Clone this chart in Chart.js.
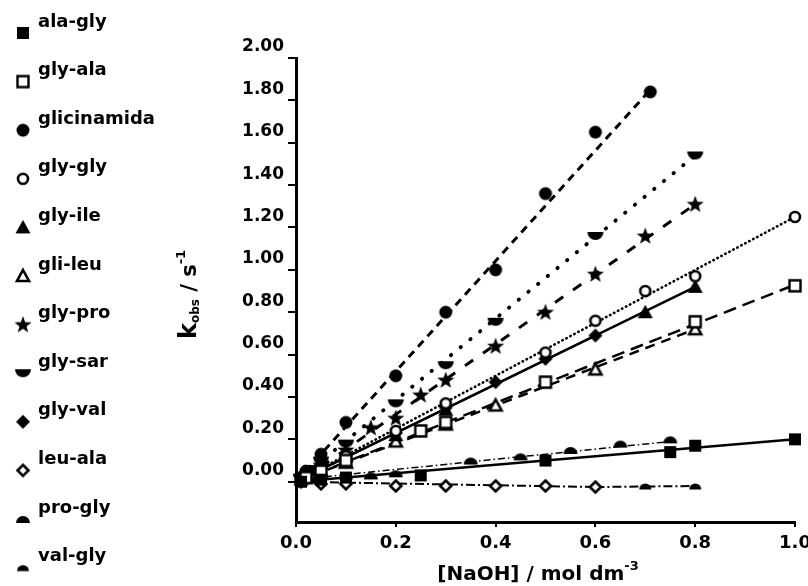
<!DOCTYPE html>
<html>
<head>
<meta charset="utf-8">
<script src="https://cdn.jsdelivr.net/npm/chart.js@4.4.1/dist/chart.umd.min.js"></script>
<style>
  html, body { margin: 0; padding: 0; background: #fff; }
  #wrap { width: 808px; height: 586px; position: relative; }
</style>
</head>
<body>
<div id="wrap"><canvas id="c" width="808" height="586"></canvas></div>
<script>
// Observed rate constant k_obs versus [NaOH] for glycinamide and a set of dipeptides.

const xTicks = [0, 0.2, 0.4, 0.6, 0.8, 1.0];
const yTicks = [0, 0.2, 0.4, 0.6, 0.8, 1.0, 1.2, 1.4, 1.6, 1.8, 2.0];

// measured points: [NaOH] / mol dm-3, k_obs / s-1
const alaGly      = [[0.01,0.00],[0.05,0.01],[0.10,0.02],[0.25,0.03],[0.50,0.10],[0.75,0.14],[0.80,0.17],[1.00,0.20]];
const glyAla      = [[0.02,0.02],[0.05,0.05],[0.10,0.10],[0.25,0.24],[0.30,0.28],[0.50,0.47],[0.80,0.755],[1.00,0.925]];
const glicinamida = [[0.01,0.02],[0.02,0.05],[0.05,0.13],[0.10,0.28],[0.20,0.50],[0.30,0.80],[0.40,1.00],[0.50,1.36],[0.60,1.65],[0.71,1.84]];
const glyGly      = [[0.01,0.01],[0.05,0.06],[0.10,0.12],[0.20,0.24],[0.30,0.37],[0.50,0.61],[0.60,0.76],[0.70,0.90],[0.80,0.97],[1.00,1.25]];
const glyIle      = [[0.01,0.01],[0.05,0.05],[0.10,0.12],[0.20,0.22],[0.30,0.34],[0.70,0.80],[0.80,0.92]];
const gliLeu      = [[0.02,0.02],[0.05,0.05],[0.10,0.09],[0.20,0.19],[0.30,0.27],[0.40,0.36],[0.60,0.53],[0.80,0.72]];
const glyPro      = [[0.01,0.02],[0.05,0.08],[0.10,0.15],[0.15,0.255],[0.20,0.30],[0.25,0.41],[0.30,0.48],[0.40,0.64],[0.50,0.80],[0.60,0.98],[0.70,1.16],[0.80,1.31]];
const glySar      = [[0.01,0.02],[0.03,0.06],[0.05,0.10],[0.10,0.18],[0.20,0.37],[0.30,0.55],[0.40,0.755],[0.60,1.16],[0.80,1.54]];
const glyVal      = [[0.01,0.01],[0.05,0.06],[0.10,0.11],[0.20,0.23],[0.30,0.35],[0.40,0.47],[0.50,0.58],[0.60,0.69]];
const leuAla      = [[0.01,0.00],[0.05,-0.01],[0.10,-0.01],[0.20,-0.02],[0.30,-0.02],[0.40,-0.02],[0.50,-0.02],[0.60,-0.025]];
const proGly      = [[0.01,0.01],[0.05,0.03],[0.10,0.03],[0.15,0.03],[0.20,0.04],[0.35,0.10],[0.45,0.12],[0.55,0.15],[0.65,0.18],[0.75,0.20]];
const valGly      = [[0.01,0.00],[0.03,0.01],[0.05,0.00],[0.70,-0.02],[0.80,-0.02]];

// straight-line fits: start and end of each drawn line
const alaGlyFit      = [[0, 0], [1.00, 0.20]];
const glyAlaFit      = [[0, 0], [1.00, 0.93]];
const glicinamidaFit = [[0, 0], [0.71, 1.85]];
const glyGlyFit      = [[0, 0], [1.00, 1.25]];
const glyIleFit      = [[0, 0], [0.80, 0.92]];
const gliLeuFit      = [[0, 0], [0.80, 0.72]];
const glyProFit      = [[0.05, 0.07], [0.80, 1.31]];
const glySarFit      = [[0, 0], [0.80, 1.54]];
const glyValFit      = [[0, 0], [0.60, 0.69]];
const leuAlaFit      = [[0, 0], [0.60, -0.025]];
const proGlyFit      = [[0, 0.01], [0.75, 0.19]];
const valGlyFit      = [[0.60, -0.025], [0.80, -0.02]];

const FAMILY = '"DejaVu Sans", "Liberation Sans", sans-serif';

// marker glyphs, drawn once onto small canvases
function makeMarker(kind) {
  const c = document.createElement('canvas');
  c.width = 20; c.height = 20;
  const g = c.getContext('2d');
  g.fillStyle = '#000'; g.strokeStyle = '#000'; g.lineJoin = 'miter';
  g.beginPath();
  switch (kind) {
    case 'fsq': g.rect(4, 4, 12, 12); g.fill(); break;
    case 'osq': g.rect(4.5, 4.5, 11, 11); g.fillStyle = '#fff'; g.fill(); g.lineWidth = 2.4; g.stroke(); break;
    case 'fci': g.arc(10, 10, 6.5, 0, Math.PI * 2); g.fill(); break;
    case 'oci': g.arc(10, 10, 5, 0, Math.PI * 2); g.fillStyle = '#fff'; g.fill(); g.lineWidth = 2.6; g.stroke(); break;
    case 'ftri': g.moveTo(10, 2.5); g.lineTo(17.5, 16); g.lineTo(2.5, 16); g.closePath(); g.fill(); break;
    case 'otri': g.moveTo(10, 4); g.lineTo(16, 15); g.lineTo(4, 15); g.closePath(); g.fillStyle = '#fff'; g.fill(); g.lineWidth = 2.6; g.stroke(); break;
    case 'star': {
      for (let i = 0; i < 10; i++) {
        const r = i % 2 === 0 ? 9 : 3.7;
        const a = -Math.PI / 2 + i * Math.PI / 5;
        const px = 10 + r * Math.cos(a), py = 10.5 + r * Math.sin(a);
        if (i === 0) g.moveTo(px, py); else g.lineTo(px, py);
      }
      g.closePath(); g.fill(); break;
    }
    case 'bowl': g.moveTo(2, 6); g.lineTo(18, 6); g.arc(10, 6, 8, 0, Math.PI); g.closePath(); g.fill(); break;
    case 'fdia': g.moveTo(10, 3); g.lineTo(17, 10); g.lineTo(10, 17); g.lineTo(3, 10); g.closePath(); g.fill(); break;
    case 'odia': g.moveTo(10, 4.5); g.lineTo(15.5, 10); g.lineTo(10, 15.5); g.lineTo(4.5, 10); g.closePath(); g.fillStyle = '#fff'; g.fill(); g.lineWidth = 2.6; g.stroke(); break;
    case 'dome': g.moveTo(3, 14); g.arc(10, 14, 7, Math.PI, Math.PI * 2); g.closePath(); g.fill(); break;
    case 'sdome': g.moveTo(4, 13.5); g.arc(10, 13.5, 6, Math.PI, Math.PI * 2); g.closePath(); g.fill(); break;
  }
  return c;
}

const series = [
  { name: 'ala-gly',     pts: alaGly,      fit: alaGlyFit,      mark: 'fsq',   dash: [],             lw: 2.5 },
  { name: 'gly-ala',     pts: glyAla,      fit: glyAlaFit,      mark: 'osq',   dash: [13, 7],        lw: 2.5 },
  { name: 'glicinamida', pts: glicinamida, fit: glicinamidaFit, mark: 'fci',   dash: [8, 6],         lw: 3 },
  { name: 'gly-gly',     pts: glyGly,      fit: glyGlyFit,      mark: 'oci',   dash: [0.5, 4],       lw: 2.6, cap: 'round' },
  { name: 'gly-ile',     pts: glyIle,      fit: glyIleFit,      mark: 'ftri',  dash: [],             lw: 2.5 },
  { name: 'gli-leu',     pts: gliLeu,      fit: gliLeuFit,      mark: 'otri',  dash: [10, 7],        lw: 2.5 },
  { name: 'gly-pro',     pts: glyPro,      fit: glyProFit,      mark: 'star',  dash: [10, 12],       lw: 3 },
  { name: 'gly-sar',     pts: glySar,      fit: glySarFit,      mark: 'bowl',  dash: [0.5, 12],      lw: 3.8, cap: 'round' },
  { name: 'gly-val',     pts: glyVal,      fit: glyValFit,      mark: 'fdia',  dash: [],             lw: 2 },
  { name: 'leu-ala',     pts: leuAla,      fit: leuAlaFit,      mark: 'odia',  dash: [9, 3, 2, 3],   lw: 2 },
  { name: 'pro-gly',     pts: proGly,      fit: proGlyFit,      mark: 'dome',  dash: [7, 3, 1.5, 3], lw: 1.5 },
  { name: 'val-gly',     pts: valGly,      fit: valGlyFit,      mark: 'sdome', dash: [9, 3, 2, 3],   lw: 2 }
];
series.forEach(s => { s.img = makeMarker(s.mark); });

const toXY = arr => arr.map(([x, y]) => ({ x, y }));

const pointSets = series.map(s => ({
  type: 'scatter',
  label: s.name,
  data: toXY(s.pts),
  showLine: false,
  pointStyle: s.img,
  pointRadius: 7,
  pointHoverRadius: 7,
  clip: false
}));
const lineSets = series.map(s => ({
  type: 'scatter',
  label: s.name + ' fit',
  data: toXY(s.fit),
  showLine: true,
  pointRadius: 0,
  borderColor: '#000',
  borderWidth: s.lw,
  borderDash: s.dash,
  borderCapStyle: s.cap || 'butt',
  fill: false,
  clip: false
}));

// compound names listed down the left side with their markers
const sideLegend = {
  id: 'sideLegend',
  afterDraw(chart) {
    const ctx = chart.ctx;
    ctx.save();
    ctx.fillStyle = '#000';
    ctx.font = 'bold 18px ' + FAMILY;
    ctx.textBaseline = 'middle';
    ctx.textAlign = 'left';
    series.forEach((s, i) => {
      const my = 33 + i * 48.6;
      ctx.drawImage(s.img, 23 - 10, my - 10);
      ctx.fillText(s.name, 38, my - 11);
    });
    ctx.restore();
  }
};

function drawParts(ctx, parts, x, y) {
  let cx = x;
  parts.forEach(p => {
    ctx.font = 'bold ' + p.size + 'px ' + FAMILY;
    ctx.fillText(p.t, cx, y + p.dy);
    cx += ctx.measureText(p.t).width;
  });
}
function partsWidth(ctx, parts) {
  let w = 0;
  parts.forEach(p => { ctx.font = 'bold ' + p.size + 'px ' + FAMILY; w += ctx.measureText(p.t).width; });
  return w;
}

// axis titles with sub- and superscripts
const axisTitles = {
  id: 'axisTitles',
  afterDraw(chart) {
    const ctx = chart.ctx;
    ctx.save();
    ctx.fillStyle = '#000';
    ctx.textBaseline = 'alphabetic';
    ctx.textAlign = 'left';
    const xParts = [
      { t: '[NaOH] / mol dm', size: 20, dy: 0 },
      { t: '-3', size: 13, dy: -10 }
    ];
    const xw = partsWidth(ctx, xParts);
    drawParts(ctx, xParts, 538 - xw / 2, 580);

    ctx.translate(196, 339);
    ctx.rotate(-Math.PI / 2);
    const yParts = [
      { t: 'k', size: 24, dy: 0 },
      { t: 'obs', size: 12, dy: 3 },
      { t: ' / s', size: 21, dy: 0 },
      { t: '-1', size: 13, dy: -11 }
    ];
    drawParts(ctx, yParts, 0, 0);
    ctx.restore();
  }
};

new Chart(document.getElementById('c'), {
  type: 'scatter',
  data: { datasets: pointSets.concat(lineSets) },
  options: {
    responsive: false,
    animation: false,
    devicePixelRatio: 1,
    layout: { padding: { left: 0, right: 13, top: 58, bottom: 0 } },
    plugins: { legend: { display: false }, tooltip: { enabled: false } },
    scales: {
      x: {
        type: 'linear',
        min: 0, max: 1.0,
        afterBuildTicks: s => { s.ticks = xTicks.map(v => ({ value: v })); },
        afterFit: s => { s.height = 64; s.paddingLeft = 0; s.paddingRight = 0; },
        grid: { display: true, drawOnChartArea: false, drawTicks: true, tickLength: 5, color: '#000', lineWidth: 2 },
        border: { display: true, color: '#000', width: 3 },
        ticks: {
          color: '#000', padding: 6,
          font: { family: FAMILY, size: 18, weight: 'bold' },
          callback: v => Number(v).toFixed(1)
        }
      },
      y: {
        type: 'linear',
        min: -0.19, max: 2.0,
        afterBuildTicks: s => { s.ticks = yTicks.map(v => ({ value: v })); },
        afterFit: s => { s.width = 296; s.paddingTop = 0; s.paddingBottom = 0; },
        grid: { display: true, drawOnChartArea: false, drawTicks: true, tickLength: 8, color: '#000', lineWidth: 2 },
        border: { display: true, color: '#000', width: 3 },
        ticks: {
          color: '#000', padding: 4, labelOffset: -11,
          font: { family: FAMILY, size: 17, weight: 'bold' },
          callback: v => Number(v).toFixed(2)
        }
      }
    }
  },
  plugins: [sideLegend, axisTitles]
});
</script>
</body>
</html>
